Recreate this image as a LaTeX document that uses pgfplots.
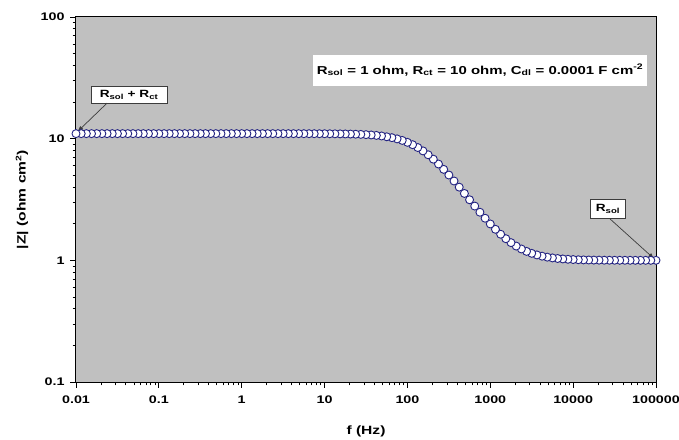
\documentclass[border=0pt]{standalone}
\usepackage{pgfplots}
\pgfplotsset{compat=1.18}
\usepackage{pgfplotstable}
\usepackage{fontspec}
\setmainfont{Liberation Sans}[FakeStretch=1.3]
\usetikzlibrary{arrows.meta}
\definecolor{plotbg}{RGB}{192,192,192}
\definecolor{markedge}{RGB}{35,35,130}
\definecolor{arrowgray}{RGB}{60,60,60}

% |Z| of the Randles cell, swept from high to low frequency
\pgfplotstableread{
f Z
100000 1.00015
86596 1.00020
74989 1.00027
64938 1.00036
56234 1.00048
48697 1.00064
42170 1.00085
36517 1.00114
31623 1.00152
27384 1.00203
23714 1.00270
20535 1.00360
17783 1.00479
15399 1.00639
13335 1.00851
11548 1.01133
10000 1.01508
8659.6 1.02006
7498.9 1.02666
6493.8 1.03539
5623.4 1.04692
4869.7 1.06209
4217.0 1.08198
3651.7 1.10792
3162.3 1.14157
2738.4 1.18486
2371.4 1.24021
2053.5 1.31012
1778.3 1.39768
1539.9 1.50606
1333.5 1.63864
1154.8 1.79909
1000 1.99107
865.96 2.21817
749.89 2.48443
649.38 2.79264
562.34 3.14623
486.97 3.54694
421.70 3.99509
365.17 4.48933
316.23 5.02516
273.84 5.59423
237.14 6.18604
205.35 6.78441
177.83 7.37353
153.99 7.93581
133.35 8.45584
115.48 8.92251
100 9.32919
86.596 9.67395
74.989 9.95990
64.938 10.19174
56.234 10.36527
48.697 10.52503
42.170 10.63614
36.517 10.72371
31.623 10.79085
27.384 10.84201
23.714 10.88089
20.535 10.91031
17.783 10.93253
15.399 10.9493
13.335 10.9619
11.548 10.9714
10 10.9785
8.6596 10.9838
7.4989 10.9879
6.4938 10.9909
5.6234 10.9932
4.8697 10.9949
4.2170 10.9962
3.6517 10.9971
3.1623 10.9978
2.7384 10.9984
2.3714 10.9988
2.0535 10.9991
1.7783 10.9993
1.5399 10.9995
1.3335 10.9996
1.1548 10.9997
1 10.9998
0.86596 10.9998
0.74989 10.9999
0.64938 10.9999
0.56234 10.9999
0.48697 11.0000
0.42170 11.0000
0.36517 11.0000
0.31623 11.0000
0.27384 11.0000
0.23714 11.0000
0.20535 11.0000
0.17783 11.0000
0.15399 11.0000
0.13335 11.0000
0.11548 11.0000
0.1 11.0000
0.086596 11.0000
0.074989 11.0000
0.064938 11.0000
0.056234 11.0000
0.048697 11.0000
0.042170 11.0000
0.036517 11.0000
0.031623 11.0000
0.027384 11.0000
0.023714 11.0000
0.020535 11.0000
0.017783 11.0000
0.015399 11.0000
0.013335 11.0000
0.011548 11.0000
0.01 11.0000
}\bodedata

\begin{document}
\begin{tikzpicture}[x=1pt,y=1pt]
\useasboundingbox (-76,-57) rectangle (603,382);
\begin{axis}[
  at={(0,0)}, anchor=south west,
  scale only axis, width=580pt, height=365pt,
  xmode=log, ymode=log,
  xmin=0.01, xmax=100000, ymin=0.1, ymax=100,
  clip=false,
  axis background/.style={fill=plotbg},
  axis line style={black, line width=1pt},
  xtick={0.01,0.1,1,10,100,1000,10000,100000},
  xticklabels={0.01,0.1,1,10,100,1000,10000,100000},
  ytick={0.1,1,10,100},
  yticklabels={0.1,1,10,100},
  tick align=outside, xtick pos=bottom, ytick pos=left,
  major tick length=6pt, minor tick length=3.5pt,
  tick style={black, line width=0.8pt},
  ticklabel style={font=\bfseries\fontsize{11}{13}\selectfont},
  xticklabel style={yshift=-4pt},
  yticklabel style={xshift=-2pt},
  xlabel={f (Hz)},
  ylabel={|Z| (ohm cm\textsuperscript{2})},
  label style={font=\bfseries\fontsize{12}{14}\selectfont},
  xlabel style={at={(axis description cs:0.5,-0.134)}, anchor=center},
  ylabel style={at={(axis description cs:-0.093,0.5)}, anchor=center},
]
\addplot[only marks, mark=*, mark size=4pt,
  mark options={fill=white, draw=markedge, line width=0.9pt}]
  table[x=f, y=Z] {\bodedata};

\node[draw=arrowgray, fill=white, line width=0.8pt, inner sep=1pt,
  minimum width=76pt, minimum height=17pt,
  font=\bfseries\fontsize{10.5}{12}\selectfont]
  at (axis cs:0.0437,22.9) {R\textsubscript{sol} + R\textsubscript{ct}};
\draw[-{Latex[length=6pt,width=4.5pt]}, arrowgray, line width=0.7pt]
  (axis cs:0.0237,19.6) -- (axis cs:0.0104,11.4);

\node[draw=arrowgray, fill=white, line width=0.8pt, inner sep=1pt,
  minimum width=35pt, minimum height=19pt,
  font=\bfseries\fontsize{10.5}{12}\selectfont]
  at (axis cs:26300,2.64) {R\textsubscript{sol}};
\draw[-{Latex[length=6pt,width=4.5pt]}, arrowgray, line width=0.7pt]
  (axis cs:27860,2.19) -- (axis cs:95000,1.03);

\node[fill=white, inner sep=2pt, minimum width=334pt, minimum height=31pt,
  font=\bfseries\fontsize{11.5}{13}\selectfont]
  at (axis cs:751,36.6)
  {R\textsubscript{sol} = 1 ohm, R\textsubscript{ct} = 10 ohm, C\textsubscript{dl} = 0.0001 F cm\textsuperscript{-2}};
\end{axis}
\end{tikzpicture}
\end{document}
